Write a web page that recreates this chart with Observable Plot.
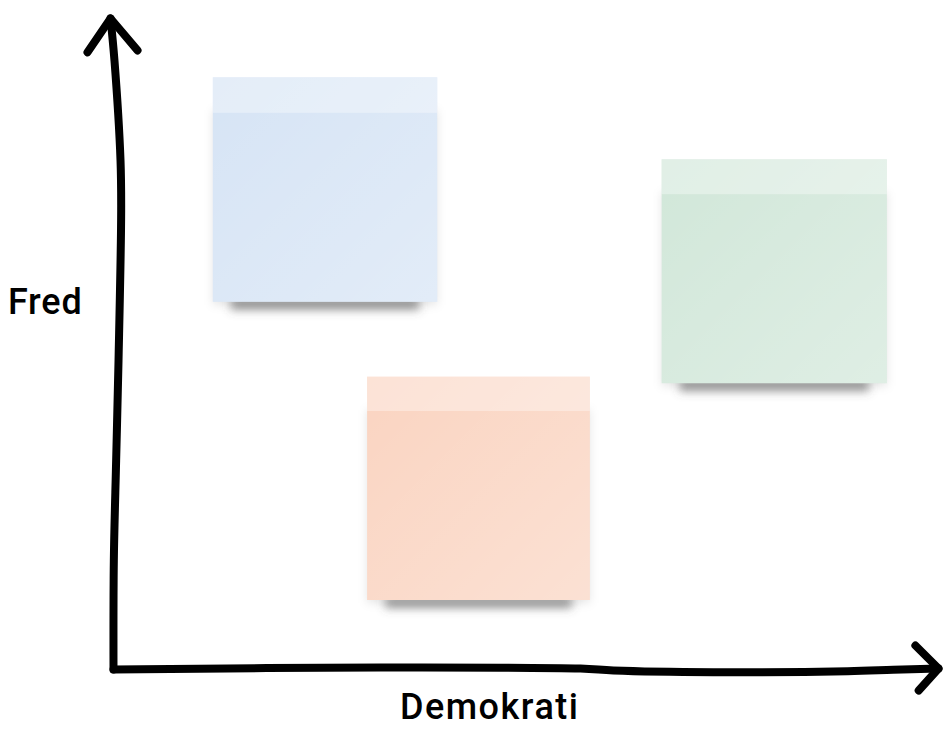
<!DOCTYPE html>
<html><head><meta charset="utf-8">
<script src="https://cdn.jsdelivr.net/npm/d3@7"></script>
<script src="https://cdn.jsdelivr.net/npm/@observablehq/plot@0.6"></script>
<style>
html,body{margin:0;padding:0;background:#fff;}
#chart svg{display:block;}
</style></head><body><div id="chart"></div>
<script>
// Sticky notes (data units: Demokrati 0–100, Fred 0–100)
const notes = ["Blå", "Orange", "Grøn"];
const noteDemokratiFrom = [12.1, 30.8, 66.5];
const noteDemokratiTo = [39.3, 57.8, 93.8];
const noteFredFrom = [56.4, 10.6, 43.9];
const noteFredTo = [90.9, 44.9, 78.3];
const noteColors = ["#d6e4f5", "#fad4c1", "#d1e7d9"];

// Hand-drawn axes (points along the stroke)
const yAxisX = [0, 0.04, 0.32, 0.61, 0.93, 0.85, 0.12, -0.36];
const yAxisY = [0, 16.7, 32.1, 47.5, 70.5, 78.2, 93.5, 100];
const yArrowX = [-3.15, -0.36, 2.91];
const yArrowY = [94.8, 100, 95.1];
const xAxisX = [0, 32.4, 56.6, 60.6, 72.7, 89.0, 94.5, 100];
const xAxisY = [0, 0.31, 0.15, -0.15, -0.41, -0.26, -0.05, 0.15];
const xArrowX = [97.2, 100, 97.6];
const xArrowY = [3.69, 0.15, -3.23];

const xLabel = "Demokrati";
const yLabel = "Fred";

const noteData = notes.map((name, i) => ({
  name, x1: noteDemokratiFrom[i], x2: noteDemokratiTo[i], y1: noteFredFrom[i], y2: noteFredTo[i]
}));
const pts = (xs, ys) => xs.map((x, i) => ({x, y: ys[i]}));
const rectOpts = {x1: "x1", x2: "x2", y1: "y1", y2: "y2"};
const font = "Roboto, 'DejaVu Sans', sans-serif";

const defs = () => {
  const d = d3.create("svg:defs");
  const g = d.append("linearGradient").attr("id", "sheen").attr("x1", 0).attr("y1", 0).attr("x2", 1).attr("y2", 1);
  g.append("stop").attr("offset", "0%").attr("stop-color", "white").attr("stop-opacity", 0);
  g.append("stop").attr("offset", "100%").attr("stop-color", "white").attr("stop-opacity", 0.3);
  d.append("filter").attr("id", "blurA").attr("x", "-20%").attr("y", "-20%").attr("width", "140%").attr("height", "140%")
    .append("feGaussianBlur").attr("stdDeviation", 5);
  d.append("filter").attr("id", "blurB").attr("x", "-20%").attr("y", "-300%").attr("width", "140%").attr("height", "700%")
    .append("feGaussianBlur").attr("stdDeviation", 5);
  return d.node();
};

const axisLine = {x: "x", y: "y", stroke: "black", strokeWidth: 8, strokeLinecap: "round", strokeLinejoin: "round"};

const plot = Plot.plot({
  width: 943, height: 729,
  marginLeft: 113, marginRight: 5, marginTop: 18, marginBottom: 60,
  x: {domain: [0, 100], axis: null},
  y: {domain: [0, 100], axis: null},
  color: {domain: notes, range: noteColors},
  style: {background: "white", overflow: "visible"},
  marks: [
    defs,
    Plot.rect(noteData, {...rectOpts, insetTop: 30, dy: 3, fill: "black", fillOpacity: 0.1, ariaDescription: "halo"}),
    Plot.rect(noteData, {...rectOpts, insetLeft: 18, insetRight: 18, insetTop: 212, dy: 8, fill: "#555", fillOpacity: 0.6, ariaDescription: "shadow"}),
    Plot.rect(noteData, {...rectOpts, fill: "name"}),
    Plot.rect(noteData, {...rectOpts, fill: "url(#sheen)"}),
    Plot.rect(noteData, {...rectOpts, insetBottom: 189, fill: "white", fillOpacity: 0.35}),
    Plot.line(pts(yAxisX, yAxisY), {...axisLine, curve: "catmull-rom"}),
    Plot.line(pts(xAxisX, xAxisY), {...axisLine, curve: "catmull-rom"}),
    Plot.line(pts(yArrowX, yArrowY), axisLine),
    Plot.line(pts(xArrowX, xArrowY), axisLine),
    Plot.text([yLabel], {x: 0, y: 56.4, text: d => d, textAnchor: "end", dx: -31, fontSize: 36, fontWeight: 500, fontFamily: font, fill: "black", ariaDescription: "ylabel"}),
    Plot.text([xLabel], {x: 45.6, y: 0, text: d => d, dy: 38, fontSize: 36, fontWeight: 500, fontFamily: font, fill: "black", ariaDescription: "xlabel"})
  ]
});

d3.select(plot).select("g[aria-description=halo]").attr("filter", "url(#blurA)");
d3.select(plot).select("g[aria-description=shadow]").attr("filter", "url(#blurB)");
d3.select(plot).selectAll("g[aria-description=xlabel] text").style("letter-spacing", "1.5px");
d3.select(plot).selectAll("g[aria-description=ylabel] text").style("letter-spacing", "0.8px");

document.getElementById("chart").appendChild(plot);
</script></body></html>
